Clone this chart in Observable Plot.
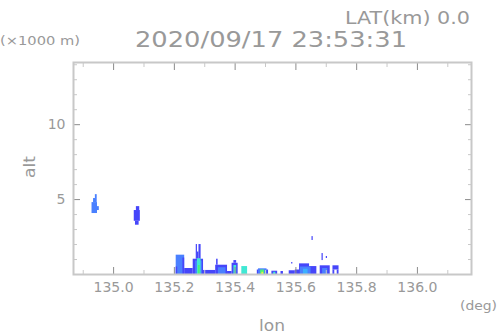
<!DOCTYPE html>
<html>
<head>
<meta charset="utf-8">
<script src="https://cdn.jsdelivr.net/npm/d3@7"></script>
<script src="https://cdn.jsdelivr.net/npm/@observablehq/plot@0.6"></script>
<style>
  html, body { margin: 0; padding: 0; background: #fff; }
  #chart { width: 498px; height: 336px; }
  svg text { font-family: "DejaVu Sans", sans-serif; }
</style>
</head>
<body>
<div id="chart"></div>
<script>
// ---- data ----
const titleText = "2020/09/17 23:53:31";
const latText = "LAT(km) 0.0";
const unitY = "(\u00d71000 m)";
const unitX = "(deg)";
const xLabel = "lon";
const yLabel = "alt";

const xMajorTicks = [135.0, 135.2, 135.4, 135.6, 135.8, 136.0];
const xMinorTicks = [134.9, 135.1, 135.3, 135.5, 135.7, 135.9, 136.1];
const yMajorTicks = [5, 10];
const yMinorTicks = [1, 2, 3, 4, 6, 7, 8, 9, 11, 12, 13, 14];
const lonDomain = [134.868, 136.178];
const altDomain = [0, 14.15];

// echo cells: lon start, lon end, alt bottom, alt top (km), intensity level
const lonStart = [134.929, 134.947, 134.934, 134.940,
  135.072, 135.068, 135.075,
  135.206, 135.228, 135.206, 135.234, 135.262, 135.272, 135.276, 135.281, 135.270, 135.276, 135.279,
  135.296, 135.336, 135.339, 135.345, 135.375, 135.390, 135.396, 135.396, 135.422,
  135.473, 135.477, 135.484, 135.488, 135.521, 135.527, 135.551,
  135.578, 135.586, 135.598, 135.612, 135.645, 135.615, 135.625, 135.653,
  135.680, 135.688, 135.686, 135.700, 135.722, 135.722, 135.736];
const lonEnd = [134.947, 134.953, 134.946, 134.946,
  135.084, 135.088, 135.086,
  135.234, 135.234, 135.211, 135.262, 135.296, 135.276, 135.281, 135.288, 135.292, 135.288, 135.285,
  135.336, 135.375, 135.344, 135.370, 135.390, 135.410, 135.405, 135.405, 135.441,
  135.510, 135.505, 135.497, 135.494, 135.540, 135.534, 135.559,
  135.598, 135.590, 135.612, 135.645, 135.669, 135.650, 135.640, 135.657,
  135.713, 135.705, 135.690, 135.704, 135.742, 135.728, 135.742];
const altBottom = [4.07, 4.27, 4.80, 5.07,
  3.29, 3.55, 4.27,
  0, 0, 0, 0, 0, 1.02, 1.02, 1.02, 0, 0, 0,
  0, 0, 0.62, 0, 0, 0, 0.75, 0, 0,
  0, 0, 0, 0, 0, 0, 0,
  0, 0.70, 0, 0, 0, 0, 0, 2.27,
  0, 0, 0.93, 1.07, 0.30, 0, 0];
const altTop = [4.80, 4.53, 5.07, 5.33,
  3.55, 4.27, 4.53,
  1.29, 1.10, 0.50, 0.40, 1.02, 2.0, 1.5, 2.0, 0.90, 1.05, 0.60,
  0.27, 0.62, 1.02, 0.45, 0.20, 0.75, 0.93, 0.60, 0.53,
  0.30, 0.38, 0.30, 0.15, 0.22, 0.15, 0.20,
  0.25, 0.80, 0.30, 0.71, 0.53, 0.50, 0.35, 2.53,
  0.58, 0.40, 1.40, 1.20, 0.58, 0.30, 0.30];
const level = [2, 2, 2, 2,
  1, 1, 1,
  2, 1, 1, 1, 1, 1, 1, 1, 2, 4, 5,
  1, 1, 1, 2, 1, 1, 1, 4, 4,
  1, 2, 5, 6, 1, 4, 1,
  1, 1, 1, 1, 1, 2, 3, 1,
  1, 2, 1, 1, 1, 1, 1];
const levelNames = [1, 2, 3, 4, 5, 6];
const levelColors = ["#4646fa", "#4a80ff", "#3cb0ff", "#40e8d4", "#4cf07a", "#e8f044"];

const cells = lonStart.map((d, i) => ({
  lon0: d, lon1: lonEnd[i], alt0: altBottom[i], alt1: altTop[i], level: level[i]
}));

const gray = "#999999";
const light = "#c8c8c8";

const chart = Plot.plot({
  width: 498,
  height: 336,
  marginLeft: 73,
  marginRight: 27,
  marginTop: 62,
  marginBottom: 62,
  style: { background: "#fff", fontFamily: "DejaVu Sans, sans-serif" },
  x: { domain: lonDomain },
  y: { domain: altDomain },
  color: { type: "ordinal", domain: levelNames, range: levelColors },
  marks: [
    Plot.rect(cells, { x1: "lon0", x2: "lon1", y1: "alt0", y2: "alt1", fill: "level" }),
    // minor ticks
    Plot.axisX({ anchor: "bottom", ticks: xMinorTicks, tickSize: -4, stroke: light, tickFormat: () => "", label: null }),
    Plot.axisX({ anchor: "top", ticks: xMinorTicks, tickSize: -4, stroke: light, tickFormat: () => "", label: null }),
    Plot.axisY({ anchor: "left", ticks: yMinorTicks, tickSize: -4, stroke: light, tickFormat: () => "", label: null }),
    Plot.axisY({ anchor: "right", ticks: yMinorTicks, tickSize: -4, stroke: light, tickFormat: () => "", label: null }),
    // major ticks
    Plot.axisX({ anchor: "top", ticks: xMajorTicks, tickSize: -7, stroke: "#8c8c8c", tickFormat: () => "", label: null }),
    Plot.axisY({ anchor: "right", ticks: yMajorTicks, tickSize: -7, stroke: "#8c8c8c", tickFormat: () => "", label: null }),
    Plot.axisX({ anchor: "bottom", ticks: xMajorTicks, tickSize: -7, tickPadding: 15, stroke: "#8c8c8c", fill: gray,
      tickFormat: d3.format(".1f"), fontSize: 14, label: null }),
    Plot.axisY({ anchor: "left", ticks: yMajorTicks, tickSize: -7, tickPadding: 15, stroke: "#8c8c8c", fill: gray,
      tickFormat: d => String(d), fontSize: 14, label: null }),
    Plot.frame({ stroke: light, strokeWidth: 2 })
  ]
});

document.getElementById("chart").appendChild(chart);

const svg = d3.select(chart);
function addText(txt, x, y, size, opts = {}) {
  const t = svg.append("text")
    .attr("x", x).attr("y", y)
    .attr("fill", gray)
    .attr("font-size", size)
    .attr("text-anchor", opts.anchor || "start")
    .text(txt);
  if (opts.len) t.attr("textLength", opts.len).attr("lengthAdjust", "spacingAndGlyphs");
  if (opts.rotate) t.attr("transform", `rotate(${opts.rotate},${x},${y})`);
  return t;
}
addText(latText, 345, 24, 18, { len: 125 });
addText(titleText, 135, 47, 21, { len: 272 });
addText(unitY, 0, 45, 12, { len: 80 });
addText(unitX, 460, 310, 12, { len: 37 });
addText(xLabel, 272, 331, 15, { anchor: "middle", len: 26 });
addText(yLabel, 35, 167, 16, { anchor: "middle", rotate: -90, len: 22 });
</script>
</body>
</html>
